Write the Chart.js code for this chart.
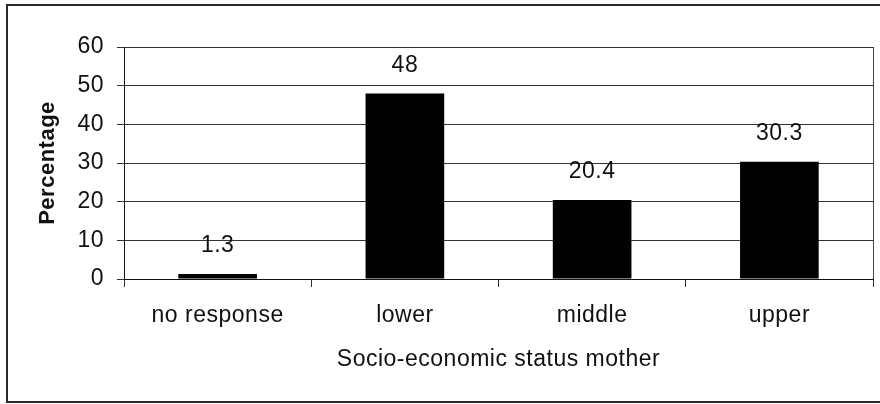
<!DOCTYPE html>
<html>
<head>
<meta charset="utf-8">
<script src="https://cdn.jsdelivr.net/npm/chart.js@4"></script>
<style>
  body { margin: 0; background: #fff; }
  #wrap { position: relative; width: 880px; height: 404px; }
  #frame {
    position: absolute; left: 6px; top: 4px; width: 872px; height: 395px;
    border: 2px solid #2a2a2a; pointer-events: none;
  }
</style>
</head>
<body>
<div id="wrap">
  <canvas id="chart" width="880" height="404"></canvas>
  <div id="frame"></div>
</div>
<script>
const categories = ['no response', 'lower', 'middle', 'upper'];
const percentages = [1.3, 48, 20.4, 30.3];
const yTicks = [0, 10, 20, 30, 40, 50, 60];

const FONT = 'Arial, "Liberation Sans", sans-serif';
const INK = '#111';
const GAP = '0.5px';

// text in the original is a touch wider than Arial
const spacing = {
    id: 'spacing',
    beforeUpdate(chart) { chart.ctx.letterSpacing = GAP; },
    beforeDraw(chart) { chart.ctx.letterSpacing = GAP; }
};

const valueLabels = {
    id: 'valueLabels',
    afterDatasetsDraw(chart) {
        const ctx = chart.ctx;
        const meta = chart.getDatasetMeta(0);
        ctx.save();
        ctx.letterSpacing = GAP;
        ctx.font = '23px ' + FONT;
        ctx.fillStyle = INK;
        ctx.textAlign = 'center';
        ctx.textBaseline = 'middle';
        meta.data.forEach((bar, i) => {
            ctx.fillText(String(percentages[i]), bar.x, bar.y - 28);
        });
        ctx.restore();
    }
};

// plot area border on the right
const rightEdge = {
    id: 'rightEdge',
    afterDraw(chart) {
        const { ctx, chartArea } = chart;
        ctx.save();
        ctx.strokeStyle = '#444';
        ctx.lineWidth = 1;
        ctx.beginPath();
        ctx.moveTo(Math.round(chartArea.right) + 0.5, chartArea.top);
        ctx.lineTo(Math.round(chartArea.right) + 0.5, chartArea.bottom);
        ctx.stroke();
        ctx.restore();
    }
};

new Chart(document.getElementById('chart'), {
    type: 'bar',
    data: {
        labels: categories,
        datasets: [{
            data: percentages,
            backgroundColor: '#000',
            borderWidth: 0,
            barPercentage: 0.42,
            categoryPercentage: 1
        }]
    },
    options: {
        responsive: false,
        animation: false,
        layout: { padding: { top: 47, right: 7, left: 0, bottom: 0 } },
        plugins: { legend: { display: false }, tooltip: { enabled: false } },
        scales: {
            x: {
                grid: {
                    offset: true,
                    drawOnChartArea: false,
                    drawTicks: true,
                    tickLength: 8,
                    color: '#333'
                },
                border: { color: '#111', width: 1 },
                ticks: {
                    color: INK,
                    font: { family: FONT, size: 23 },
                    padding: 15,
                    maxRotation: 0
                },
                title: {
                    display: true,
                    text: 'Socio-economic status mother',
                    color: INK,
                    font: { family: FONT, size: 23 },
                    padding: { top: 0, bottom: 31 }
                },
                afterFit(scale) { scale.height = 125; }
            },
            y: {
                min: 0,
                max: 60,
                afterBuildTicks(scale) { scale.ticks = yTicks.map(v => ({ value: v })); },
                grid: {
                    color: '#333',
                    lineWidth: 1,
                    tickLength: 7,
                    drawTicks: true
                },
                border: { color: '#111', width: 1 },
                ticks: {
                    color: INK,
                    font: { family: FONT, size: 23 },
                    padding: 13
                },
                title: {
                    display: true,
                    text: 'Percentage',
                    color: INK,
                    font: { family: FONT, size: 22, weight: 'bold' },
                    padding: { top: 35, bottom: 0 }
                },
                afterFit(scale) { scale.width = 124; }
            }
        }
    },
    plugins: [spacing, valueLabels, rightEdge]
});
</script>
</body>
</html>
